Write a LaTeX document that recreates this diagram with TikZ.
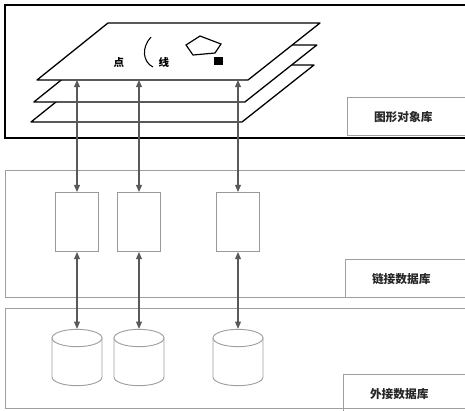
\documentclass[tikz,border=0pt]{standalone}
\usepackage{fontspec}
\newfontfamily\cjk{Noto Sans CJK SC}
\usetikzlibrary{arrows.meta}
\begin{document}
\begin{tikzpicture}[x=0.03cm,y=-0.03cm,
  frame/.style={draw=gray!75,line width=0.8pt},
  tag/.style={draw=gray!75,line width=0.8pt,anchor=north west,minimum width=3.8cm,minimum height=1.15cm,inner sep=0pt,font=\cjk\fontsize{10}{12}\selectfont\bfseries,text=black!85},
  plane/.style={draw,fill=white,line width=1.1pt,line join=round},
  tablebox/.style={draw=gray!80,line width=0.9pt,minimum width=1.29cm,minimum height=1.77cm,inner sep=0pt},
  dbcyl/.style={minimum width=1.5cm,minimum height=1.68cm,inner sep=0pt},
  link/.style={black!65,line width=0.9pt,{Triangle[length=6pt,width=5pt]}-{Triangle[length=6pt,width=5pt]}}]
\useasboundingbox (0,0) rectangle (465,410);
% layers
\draw[line width=1pt] (5,5) rectangle (480,138);
\draw[frame] (5,170) rectangle (480,297);
\draw[frame] (5,308) rectangle (480,408);
\node[tag,anchor=north west] (objlib) at (347,97) {\hspace*{-0.45cm}图形对象库};
\node[tag,anchor=north west] (linklib) at (345,259) {\hspace*{-0.45cm}链接数据库};
\node[tag,anchor=north west] (extlib) at (343,374) {\hspace*{-0.45cm}外接数据库};
% stacked planes
\foreach \d in {42,22,0}
  \draw[plane,shift={(-0.09cm*\d/21,-0.03cm*\d)}] (108,23) -- (320,23) -- (248,80) -- (37,80) -- cycle;
\node[font=\cjk\fontsize{9}{9}\selectfont\bfseries] (pt) at (119,62) {点};
\draw[line width=0.9pt] (151,37) .. controls (141,48) and (143,62) .. (153,67);
\node[font=\cjk\fontsize{9}{9}\selectfont\bfseries] (ln) at (164,62) {线};
\draw[line width=1pt] (186,45) -- (200,36) -- (221,44) -- (215,53) -- (193,55) -- cycle;
\fill (214,57) rectangle (223,65);
% link tables and databases
\foreach \i/\x in {1/77,2/139,3/238} {
  \coordinate (p\i) at (\x,80);
  \node[tablebox] (t\i) at (\x,222) {};
  \node[dbcyl] (d\i) at (\x,357) {};
  \draw[frame] (\x-25,338) -- (\x-25,377) arc[start angle=180,end angle=360,x radius=0.75cm,y radius=0.26cm] -- (\x+25,338);
  \draw[frame] (\x,338) ellipse[x radius=0.75cm,y radius=0.26cm];
  \draw[link] (p\i) -- (t\i.north);
  \draw[link] (t\i.south) -- (d\i.north);
}
\end{tikzpicture}
\end{document}
